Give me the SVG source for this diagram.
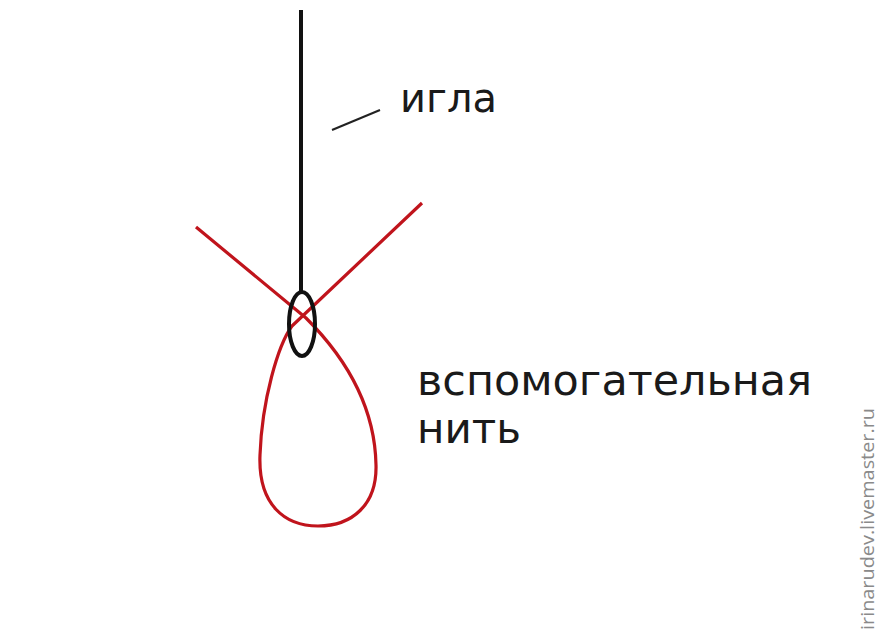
<svg xmlns="http://www.w3.org/2000/svg" width="879" height="636" viewBox="0 0 879 636">
<style>
.lbl{font-family:"DejaVu Sans",Verdana,sans-serif;fill:#1a1a1a}
.wm{font-family:"Open Sans","Noto Sans",sans-serif;fill:#8a8a8a}
</style>
<rect width="879" height="636" fill="#ffffff"/>
<g id="thread">
<path d="M422,203 L292,326 C278,345 262,400 260,455 C258,505 285,526 318,526 C352,526 377,505 376,465 C375,410 348,360 306,318 L196,227" fill="none" stroke="#c0141c" stroke-width="3.2" stroke-linejoin="round"/>
</g>
<g id="needle">
<line x1="301" y1="10" x2="301" y2="292" stroke="#111" stroke-width="4"/>
<ellipse cx="302" cy="324" rx="13" ry="32" fill="none" stroke="#111" stroke-width="4"/>
</g>
<g id="connectors">
<line x1="332" y1="130" x2="380" y2="110" stroke="#222" stroke-width="2"/>
</g>
<g id="label-igla">
<text class="lbl" x="400" y="112" font-size="40" textLength="97" lengthAdjust="spacingAndGlyphs">игла</text>
</g>
<g id="label-thread">
<text class="lbl" x="417" y="395" font-size="42" textLength="395" lengthAdjust="spacingAndGlyphs">вспомогательная</text>
<text class="lbl" x="417" y="443" font-size="42">нить</text>
</g>
<g id="watermark">
<text class="wm" transform="translate(874,630) rotate(-90)" font-size="19" textLength="222" lengthAdjust="spacingAndGlyphs">irinarudev.livemaster.ru</text>
</g>
</svg>
